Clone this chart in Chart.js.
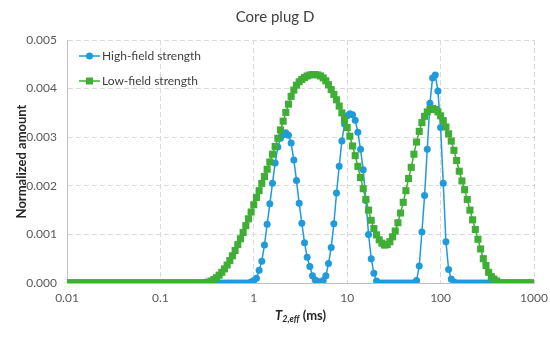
<!DOCTYPE html>
<html lang="en">
<head>
<meta charset="UTF-8">
<title>Core plug D</title>
<script src="https://cdn.jsdelivr.net/npm/chart.js@4.4.1/dist/chart.umd.min.js"></script>
<style>
  html, body { margin: 0; padding: 0; background: #fff; }
  #wrap { width: 550px; height: 338px; }
</style>
</head>
<body>
<div id="wrap"><canvas id="myChart" width="550" height="338"></canvas></div>
<script>
// chart texts
const chartTitle = 'Core plug D';
const yTitle = 'Normalized amount';
const seriesNames = ['High-field strength', 'Low-field strength'];

// axis ticks
const xTicks = [0.01, 0.1, 1, 10, 100, 1000];
const yTicks = [0, 0.001, 0.002, 0.003, 0.004, 0.005];

// T2 bins: 35 per decade from 0.01 to 1000 ms
const pointsPerDecade = 35;
const t2 = [];
for (let i = 0; i <= 5 * pointsPerDecade; i++) t2.push(Math.pow(10, -2 + i / pointsPerDecade));

// high-field strength
const highField = [
  0, 0, 0, 0, 0, 0, 0, 0, 0, 0,
  0, 0, 0, 0, 0, 0, 0, 0, 0, 0,
  0, 0, 0, 0, 0, 0, 0, 0, 0, 0,
  0, 0, 0, 0, 0, 0, 0, 0, 0, 0,
  0, 0, 0, 0, 0, 0, 0, 0, 0, 0,
  0, 0, 0, 0, 0, 0, 0, 0, 0, 0,
  0, 0, 0, 0, 0, 0, 0, 0, 0, 0.00002,
  0.00005, 0.00010, 0.00026, 0.00045, 0.00078, 0.00121, 0.00163, 0.00205, 0.00247, 0.00280,
  0.00298, 0.00305, 0.00309, 0.00304, 0.00288, 0.00253, 0.00211, 0.00164, 0.00123, 0.00083,
  0.00053, 0.00034, 0.00015, 0.00006, 0.00003, 0.00002, 0.00005, 0.00015, 0.00040, 0.00073,
  0.00122, 0.00185, 0.00240, 0.00292, 0.00327, 0.00344, 0.00348, 0.00346, 0.00335, 0.00310,
  0.00275, 0.00233, 0.00170, 0.00100, 0.00050, 0.00020, 0.00004, 0, 0, 0,
  0, 0, 0, 0, 0, 0, 0, 0, 0, 0,
  0, 0.00005, 0.00035, 0.00105, 0.00180, 0.00275, 0.00370, 0.00422, 0.00428, 0.00395,
  0.00320, 0.00205, 0.00085, 0.00028, 0.00008, 0.00002, 0, 0, 0, 0,
  0, 0, 0, 0, 0, 0, 0, 0, 0, 0,
  0, 0, 0, 0, 0, 0, 0, 0, 0, 0,
  0, 0, 0, 0, 0, 0
];

// low-field strength
const lowField = [
  0, 0, 0, 0, 0, 0, 0, 0, 0, 0,
  0, 0, 0, 0, 0, 0, 0, 0, 0, 0,
  0, 0, 0, 0, 0, 0, 0, 0, 0, 0,
  0, 0, 0, 0, 0, 0, 0, 0, 0, 0,
  0, 0, 0, 0, 0, 0, 0, 0, 0, 0,
  0, 0, 0.00001, 0.00002, 0.00004, 0.00007, 0.00011, 0.00016, 0.00022, 0.00029,
  0.00037, 0.00046, 0.00056, 0.00067, 0.00079, 0.00091, 0.00104, 0.00118, 0.00132, 0.00146,
  0.00161, 0.00176, 0.00190, 0.00205, 0.00219, 0.00234, 0.00249, 0.00265, 0.00281, 0.00298,
  0.00315, 0.00333, 0.00351, 0.00368, 0.00384, 0.00397, 0.00407, 0.00414, 0.00419, 0.00423,
  0.00426, 0.00428, 0.00429, 0.00429, 0.00428, 0.00426, 0.00422, 0.00416, 0.00408, 0.00398,
  0.00388, 0.00377, 0.00364, 0.00350, 0.00336, 0.00320, 0.00302, 0.00282, 0.00262, 0.00240,
  0.00217, 0.00194, 0.00172, 0.00150, 0.00129, 0.00112, 0.00099, 0.00089, 0.00082, 0.00078,
  0.00079, 0.00085, 0.00095, 0.00107, 0.00124, 0.00144, 0.00166, 0.00190, 0.00215, 0.00238,
  0.00265, 0.00290, 0.00312, 0.00330, 0.00343, 0.00352, 0.00357, 0.00359, 0.00357, 0.00352,
  0.00344, 0.00334, 0.00321, 0.00307, 0.00292, 0.00273, 0.00252, 0.00230, 0.00210, 0.00192,
  0.00172, 0.00150, 0.00130, 0.00110, 0.00090, 0.00070, 0.00050, 0.00036, 0.00022, 0.00013,
  0.00008, 0.00004, 0.00001, 0, 0, 0, 0, 0, 0, 0,
  0, 0, 0, 0, 0, 0
];

const blue = '#1f9bdb';
const green = '#3fae35';
const font = 'Lato, "Open Sans", sans-serif';

// titles, x axis label with subscript and the legend inside the plot
const decorations = {
  id: 'decorations',
  afterDraw(chart) {
    const ctx = chart.ctx;
    const a = chart.chartArea;
    ctx.save();
    ctx.textBaseline = 'middle';

    ctx.fillStyle = '#404040';
    ctx.textAlign = 'center';
    ctx.font = '15px ' + font;
    ctx.fillText(chartTitle, 275, 17);

    // x axis title: T2,eff (ms)
    const parts = [
      { t: 'T', f: 'italic bold 13px ' + font, dy: 0 },
      { t: '2,eff', f: 'italic bold 9px ' + font, dy: 3 },
      { t: ' (ms)', f: 'bold 13px ' + font, dy: 0 }
    ];
    let total = 0;
    parts.forEach(p => { ctx.font = p.f; total += ctx.measureText(p.t).width; });
    let x = (a.left + a.right) / 2 - total / 2;
    ctx.textAlign = 'left';
    ctx.fillStyle = '#262626';
    parts.forEach(p => {
      ctx.font = p.f;
      ctx.fillText(p.t, x, 316 + p.dy);
      x += ctx.measureText(p.t).width;
    });

    // y axis title
    ctx.save();
    ctx.translate(22, (a.top + a.bottom) / 2);
    ctx.rotate(-Math.PI / 2);
    ctx.textAlign = 'center';
    ctx.font = 'bold 13px ' + font;
    ctx.fillText(yTitle, 0, 0);
    ctx.restore();

    // legend
    const ys = [56, 81];
    chart.data.datasets.forEach((ds, k) => {
      const y = ys[k];
      ctx.strokeStyle = ds.borderColor;
      ctx.lineWidth = 1.5;
      ctx.beginPath();
      ctx.moveTo(79, y);
      ctx.lineTo(100, y);
      ctx.stroke();
      ctx.fillStyle = ds.backgroundColor;
      if (ds.pointStyle === 'rect') {
        ctx.fillRect(86, y - 3.5, 7, 7);
      } else {
        ctx.beginPath();
        ctx.arc(89.5, y, 3.5, 0, Math.PI * 2);
        ctx.fill();
      }
      ctx.fillStyle = '#404040';
      ctx.font = '12px ' + font;
      ctx.textAlign = 'left';
      ctx.fillText(seriesNames[k], 102, y);
    });
    ctx.restore();
  }
};

const ctx = document.getElementById('myChart').getContext('2d');
const myChart = new Chart(ctx, {
  type: 'line',
  data: {
    datasets: [
      {
        label: seriesNames[0],
        data: t2.map((x, i) => ({ x: x, y: highField[i] })),
        borderColor: blue,
        backgroundColor: blue,
        borderWidth: 1.5,
        pointStyle: 'circle',
        pointRadius: 3.5,
        pointBorderWidth: 0,
        order: 1
      },
      {
        label: seriesNames[1],
        data: t2.map((x, i) => ({ x: x, y: lowField[i] })),
        borderColor: green,
        backgroundColor: green,
        borderWidth: 1.5,
        pointStyle: 'rect',
        pointRadius: 5,
        pointBorderWidth: 0,
        order: 0
      }
    ]
  },
  options: {
    responsive: false,
    animation: false,
    devicePixelRatio: 1,
    layout: { padding: { top: 40, right: 16, bottom: 0, left: 0 } },
    plugins: {
      legend: { display: false },
      title: { display: false },
      tooltip: { enabled: false }
    },
    scales: {
      x: {
        type: 'logarithmic',
        min: 0.01,
        max: 1000,
        afterBuildTicks: scale => { scale.ticks = xTicks.map(v => ({ value: v })); },
        afterFit: scale => {
          scale.height = 55;
          scale.paddingLeft = 0;
          scale.paddingRight = 0;
        },
        ticks: {
          color: '#595959',
          font: { family: font, size: 12 },
          padding: 8,
          maxRotation: 0,
          autoSkip: false,
          callback: v => String(v)
        },
        grid: { color: '#d9d9d9', drawTicks: false },
        border: { color: '#bfbfbf', width: 1, dash: [5, 3] }
      },
      y: {
        min: 0,
        max: 0.005,
        afterBuildTicks: scale => { scale.ticks = yTicks.map(v => ({ value: v })); },
        afterFit: scale => {
          scale.width = 67;
          scale.paddingTop = 0;
          scale.paddingBottom = 0;
        },
        ticks: {
          color: '#595959',
          font: { family: font, size: 12 },
          padding: 10,
          callback: v => v.toFixed(3)
        },
        grid: { color: '#d9d9d9', drawTicks: false },
        border: { color: '#bfbfbf', width: 1, dash: [5, 3] }
      }
    }
  },
  plugins: [decorations]
});
</script>
</body>
</html>
